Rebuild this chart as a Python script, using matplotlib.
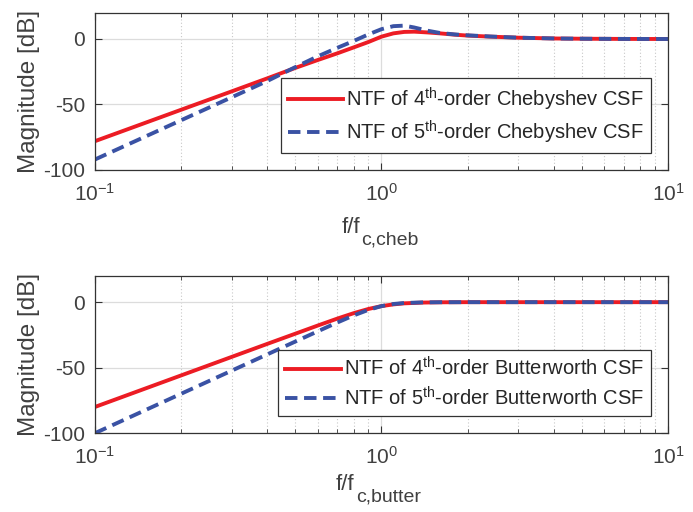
import numpy as np
import matplotlib
matplotlib.use("Agg")
import matplotlib.pyplot as plt
from matplotlib.ticker import LogLocator, NullFormatter

plt.rcParams['font.family'] = ['Liberation Sans', 'DejaVu Sans']
plt.rcParams['mathtext.fontset'] = 'custom'
plt.rcParams['mathtext.rm'] = 'Liberation Sans'
plt.rcParams['mathtext.it'] = 'Liberation Sans'
plt.rcParams['axes.unicode_minus'] = False

# Chebyshev NTF magnitudes (dB) vs normalised frequency
f_cheb = [0.1, 0.2, 0.3, 0.4, 0.5, 0.6, 0.7, 0.8, 0.9, 1.0, 1.1, 1.2, 1.3,
          1.45, 1.6, 1.8, 2.0, 2.4, 3.0, 4.0, 5.0, 7.0, 10.0]
cheb4 = [-78, -54, -40, -30, -22.1, -16.0, -11.0, -6.4, -2.3, 1.8, 4.3, 5.4, 5.6,
         5.0, 4.3, 3.3, 2.6, 1.8, 1.0, 0.4, 0.2, 0.05, 0]
cheb5 = [-92, -62, -44.5, -32, -21.5, -13.2, -6.8, -1.5, 3.5, 7.5, 9.8, 10.2, 8.8,
         6.3, 4.6, 3.5, 2.8, 1.9, 1.0, 0.4, 0.2, 0.05, 0]

# Butterworth NTF magnitudes (dB)
f_butter = [0.1, 0.2, 0.3, 0.4, 0.5, 0.6, 0.7, 0.8, 0.9, 1.0, 1.1, 1.2, 1.4,
            1.6, 2.0, 3.0, 5.0, 10.0]
butter4 = [-80, -55.9, -41.8, -31.8, -24.1, -17.8, -12.6, -8.4, -5.2, -3.0, -1.7,
           -0.9, -0.3, -0.1, 0, 0, 0, 0]
butter5 = [-100, -69.9, -52.3, -39.8, -30.1, -22.2, -15.6, -10.1, -5.9, -3.0, -1.4,
           -0.65, -0.15, -0.05, 0, 0, 0, 0]

red = '#ec1c24'
blue = '#3a52a4'
txt = '#404040'
fs_tick = 15
fs_leg = 14.5
fs_lab = 17.5

fig = plt.figure(figsize=(6.93, 5.12), dpi=100)
ax1 = fig.add_axes([0.137, 0.668, 0.827, 0.307])
ax2 = fig.add_axes([0.137, 0.154, 0.827, 0.307])


def style(ax, sub, xr, y0):
    ax.set_xscale('log')
    ax.set_xlim(0.1, 10)
    ax.set_ylim(-100, 20)
    ax.set_yticks([-100, -50, 0])
    ax.xaxis.set_major_locator(LogLocator(base=10, numticks=5))
    ax.xaxis.set_minor_locator(LogLocator(base=10, subs=np.arange(2, 10), numticks=20))
    ax.xaxis.set_minor_formatter(NullFormatter())
    ax.grid(True, which='major', color='#dcdcdc', lw=0.9, ls='-')
    ax.grid(True, which='minor', axis='x', color='#c8c8c8', lw=0.8, ls=(0, (1, 2)))
    ax.set_axisbelow(True)
    ax.tick_params(which='both', direction='in', top=True, right=True,
                   colors='#333333', labelcolor=txt, labelsize=fs_tick)
    ax.tick_params(which='major', length=5, width=0.8)
    ax.tick_params(which='minor', length=3, width=0.6)
    ax.tick_params(axis='x', pad=9)
    ax.tick_params(axis='y', pad=7)
    for s in ax.spines.values():
        s.set_color('#333333')
        s.set_linewidth(0.9)
    ax.set_ylabel('Magnitude [dB]', fontsize=fs_lab, color=txt, labelpad=2)
    # x label: f/f with a large subscript
    ax.text(xr, y0, 'f/f', transform=ax.transAxes, ha='right',
            va='baseline', fontsize=fs_lab - 1.5, color=txt)
    ax.text(xr + 0.002, y0 - 0.075, sub, transform=ax.transAxes, ha='left',
            va='baseline', fontsize=fs_lab - 3.5, color=txt)


ax1.plot(f_cheb, cheb4, color=red, lw=2.8,
         label='NTF of 4$^{\\rm th}$-order Chebyshev CSF')
ax1.plot(f_cheb, cheb5, color=blue, lw=2.8, ls=(0, (3.2, 1.7)),
         label='NTF of 5$^{\\rm th}$-order Chebyshev CSF')
style(ax1, 'c,cheb', 0.4625, -0.40)

ax2.plot(f_butter, butter4, color=red, lw=2.8,
         label='NTF of 4$^{\\rm th}$-order Butterworth CSF')
ax2.plot(f_butter, butter5, color=blue, lw=2.8, ls=(0, (3.2, 1.7)),
         label='NTF of 5$^{\\rm th}$-order Butterworth CSF')
style(ax2, 'c,butter', 0.453, -0.36)

for ax in (ax1, ax2):
    leg = ax.legend(loc='lower right', bbox_to_anchor=(0.97, 0.108), fontsize=fs_leg,
                    fancybox=False, framealpha=1, edgecolor='#333333',
                    handlelength=2.75, borderpad=0.35, labelspacing=0.3,
                    handletextpad=0.15, borderaxespad=0)
    leg.get_frame().set_linewidth(0.9)
    for t in leg.get_texts():
        t.set_color('#262626')

fig.savefig('out.png', dpi=100)
